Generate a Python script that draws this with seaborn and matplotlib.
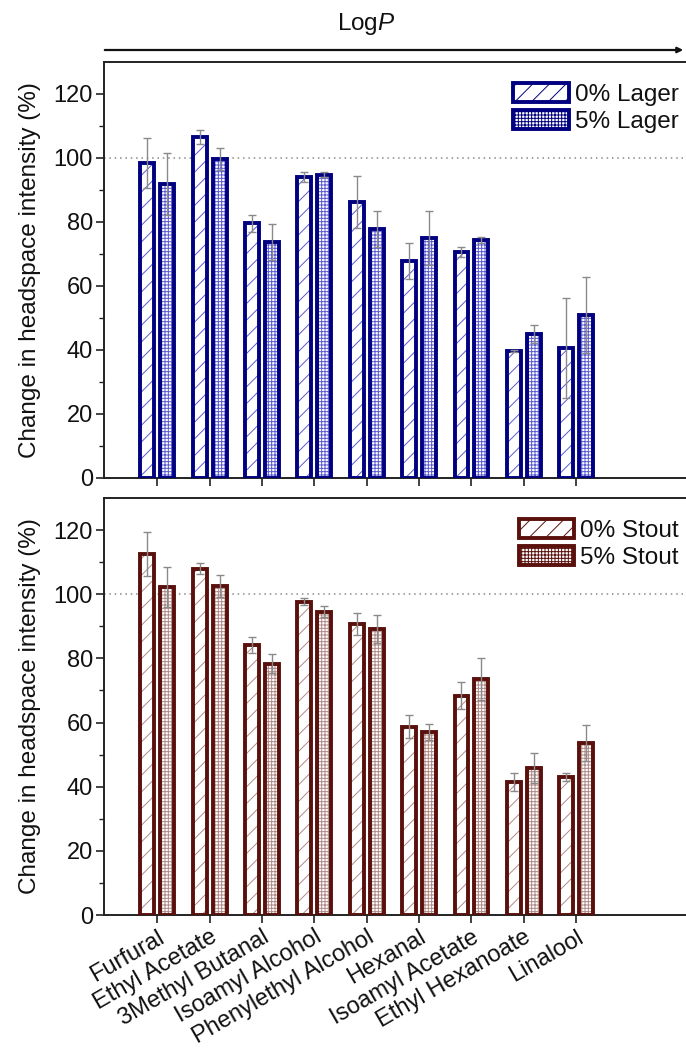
import numpy as np
import pandas as pd
import matplotlib
matplotlib.use("Agg")
import matplotlib.pyplot as plt
import seaborn as sns
from matplotlib.patches import Patch

compounds = ["Furfural", "Ethyl Acetate", "3Methyl Butanal", "Isoamyl Alcohol",
             "Phenylethyl Alcohol", "Hexanal", "Isoamyl Acetate", "Ethyl Hexanoate", "Linalool"]

lager_0 = [98.4, 106.6, 79.6, 94.0, 86.2, 67.8, 70.6, 39.7, 40.6]
lager_0_err = [7.8, 2.1, 2.6, 1.6, 8.2, 5.6, 1.6, 0.3, 15.7]
lager_5 = [91.9, 99.6, 73.8, 94.8, 77.8, 75.0, 74.4, 45.0, 51.0]
lager_5_err = [9.6, 3.4, 5.6, 0.8, 5.6, 8.4, 0.9, 2.8, 11.8]

stout_0 = [112.5, 108.0, 84.3, 97.7, 90.7, 58.7, 68.4, 41.6, 43.1]
stout_0_err = [6.9, 1.6, 2.5, 1.2, 3.4, 3.5, 4.3, 2.8, 1.3]
stout_5 = [102.2, 102.5, 78.4, 94.6, 89.1, 57.1, 73.6, 45.9, 53.7]
stout_5_err = [6.2, 3.4, 3.1, 1.8, 4.3, 2.5, 6.5, 4.6, 5.6]

sns.set_theme(style="white")
plt.rcParams['font.family'] = ['Liberation Sans', 'DejaVu Sans']
plt.rcParams['hatch.linewidth'] = 0.7
plt.rcParams['mathtext.fontset'] = 'custom'
plt.rcParams['mathtext.it'] = 'Liberation Sans:italic'
plt.rcParams['mathtext.rm'] = 'Liberation Sans'

fig = plt.figure(figsize=(6.86, 10.48), dpi=100)
L = 104 / 686
ax1 = fig.add_axes([L, 1 - 478 / 1048, 1.0 - L, (478 - 62) / 1048])
ax2 = fig.add_axes([L, 1 - 915 / 1048, 1.0 - L, (915 - 498) / 1048])

hatches = ['//', '+++++']
TXT = '#111111'


def panel(ax, v0, e0, v5, e5, names, edge, hatchc):
    df = pd.DataFrame({
        "compound": compounds * 2,
        "value": list(v0) + list(v5),
        "err": list(e0) + list(e5),
        "group": [names[0]] * len(compounds) + [names[1]] * len(compounds),
    })
    # hatch layer
    sns.barplot(data=df, x="compound", y="value", hue="group", ax=ax,
                order=compounds, hue_order=names, width=0.76, gap=0.3,
                palette=["white", "white"], edgecolor=hatchc, linewidth=0,
                errorbar=None, legend=False, zorder=2)
    n = len(compounds)
    bars = ax.patches[:2 * n]
    for i, p in enumerate(bars):
        p.set_hatch(hatches[i // n])
    # outline layer
    sns.barplot(data=df, x="compound", y="value", hue="group", ax=ax,
                order=compounds, hue_order=names, width=0.76, gap=0.3,
                fill=False, palette=[edge, edge], edgecolor=edge, linewidth=2.8,
                errorbar=None, legend=False, zorder=3)
    # error bars
    for i, p in enumerate(bars):
        xc = p.get_x() + p.get_width() / 2
        ax.errorbar(xc, df["value"].iloc[i], yerr=df["err"].iloc[i], fmt='none',
                    ecolor='#8a8a8a', elinewidth=1.0, capsize=3, capthick=1.0, zorder=4)
    ax.axhline(100, color='#8a8a8a', ls=(0, (1, 2.5)), lw=1.1, zorder=1)
    ax.set_xlim(-1.02, 10.1)
    ax.set_ylim(0, 130)
    ax.set_yticks(np.arange(0, 121, 20))
    ax.set_yticks(np.arange(10, 121, 20), minor=True)
    ax.tick_params(axis='both', which='major', direction='out', length=6, width=1.2,
                   labelsize=17, color='#222222', labelcolor=TXT, left=True, bottom=True, pad=2)
    ax.tick_params(axis='y', which='minor', direction='out', length=3.5, width=1.0,
                   color='#222222', left=True)
    ax.set_ylabel("Change in headspace intensity (%)", fontsize=17.5, color=TXT)
    ax.yaxis.set_label_coords(-0.108, 0.5)
    ax.set_xlabel("")
    for s in ['left', 'bottom', 'top']:
        ax.spines[s].set_visible(True)
        ax.spines[s].set_linewidth(1.4)
        ax.spines[s].set_color('#222222')
    ax.spines['right'].set_visible(False)
    handles = [Patch(facecolor='white', edgecolor=edge, hatch=hatches[0], linewidth=2.8, label=names[0]),
               Patch(facecolor='white', edgecolor=edge, hatch=hatches[1], linewidth=2.8, label=names[1])]
    leg = ax.legend(handles=handles, loc='upper right', bbox_to_anchor=(1.012, 0.985), frameon=False,
                    fontsize=17.5, handlelength=2.3, handleheight=0.85, handletextpad=0.22,
                    labelspacing=0.15, borderaxespad=0.2)
    for t in leg.get_texts():
        t.set_color(TXT)


panel(ax1, lager_0, lager_0_err, lager_5, lager_5_err, ["0% Lager", "5% Lager"], '#000080', '#5a5ad0')
panel(ax2, stout_0, stout_0_err, stout_5, stout_5_err, ["0% Stout", "5% Stout"], '#5a100c', '#b08a86')

ax1.set_xticks(range(len(compounds)))
ax1.set_xticklabels([])
ax2.set_xticks(range(len(compounds)))
ax2.set_xticklabels(compounds, rotation=30, ha='right', rotation_mode='anchor', fontsize=17)

# LogP arrow
fig.patches.append(matplotlib.patches.FancyArrowPatch(
    (102 / 686, 1 - 50 / 1048), (686 / 686, 1 - 50 / 1048), transform=fig.transFigure,
    arrowstyle='-|>', mutation_scale=8, lw=1.6, color=TXT))
fig.text(366 / 686, 1 - 24 / 1048, r"Log$\it{P}$", ha='center', va='center', fontsize=17.5, color=TXT)

fig.savefig("out.png", dpi=100)
